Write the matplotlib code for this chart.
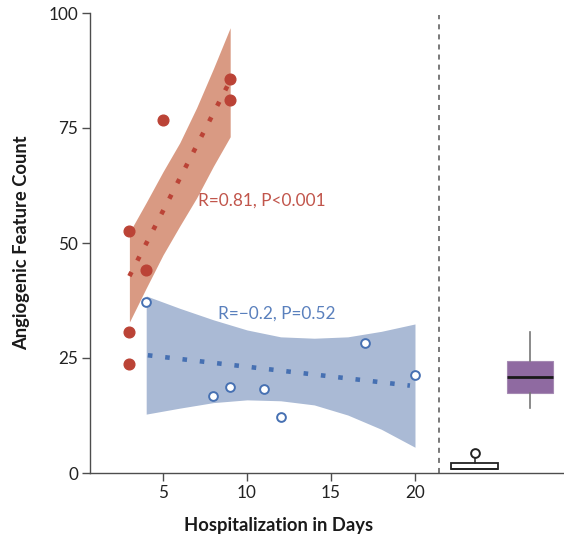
import matplotlib
matplotlib.use('Agg')
import matplotlib.pyplot as plt

plt.rcParams['font.family'] = ['Lato', 'DejaVu Sans']

# ---- data ----
red_x = [3, 3, 3, 4, 5, 9, 9]
red_y = [52.5, 30.6, 23.6, 44.1, 76.7, 85.6, 81.1]
red_fit_x = [3, 9]
red_fit_y = [42.8, 85.3]
red_band_x = [3, 4, 5, 6, 7, 8, 9]
red_band_lo = [32.8, 40.2, 47.4, 53.7, 59.8, 66.7, 73.1]
red_band_hi = [52.3, 58.8, 65.5, 71.8, 79.4, 87.9, 96.8]

blue_x = [4, 8, 9, 11, 12, 17, 20]
blue_y = [37.2, 16.7, 18.8, 18.3, 12.2, 28.3, 21.2]
blue_fit_x = [4.1, 19.7]
blue_fit_y = [25.6, 19.0]
blue_band_x = [4, 6, 8, 10, 12, 14, 16, 18, 20]
blue_band_hi = [38.5, 35.8, 33.3, 31.1, 29.6, 29.3, 29.6, 30.8, 32.4]
blue_band_lo = [12.8, 14.1, 15.3, 15.9, 15.7, 14.8, 12.6, 9.5, 5.6]

red_label = "R=0.81, P<0.001"
blue_label = "R=\u22120.2, P=0.52"

divider_x = 21.45

box1_stats = dict(med=0.8, q1=0.8, q3=2.1, whislo=0.8, whishi=3.4, fliers=[4.3])
box2_stats = dict(med=20.9, q1=17.5, q3=24.3, whislo=14.1, whishi=30.7, fliers=[])
box_positions = [23.57, 26.86]

x_ticks = [5, 10, 15, 20]
y_ticks = [0, 25, 50, 75, 100]

# ---- colours ----
RED = '#bb4336'
RED_BAND = '#d99a83'
RED_TXT = '#c1554b'
BLUE = '#4670b2'
BLUE_BAND = '#aabad5'
BLUE_TXT = '#5a80bd'
PURPLE = '#8f6aa1'
AX = '#4d4d4d'

W, H = 564, 538
fig = plt.figure(figsize=(W / 100, H / 100), dpi=100)
ax = fig.add_axes([90 / W, 65 / H, (W - 90) / W, 460 / H])

# red group
ax.fill_between(red_band_x, red_band_lo, red_band_hi, color=RED_BAND, lw=0, zorder=1)
ax.plot(red_fit_x, red_fit_y, color=RED, lw=3.3, ls=(0, (1, 2.8)),
        dash_capstyle='butt', zorder=2)
ax.plot(red_x, red_y, 'o', ms=7.7, color=RED, mec=RED, zorder=3)

# blue group
ax.fill_between(blue_band_x, blue_band_lo, blue_band_hi, color=BLUE_BAND, lw=0, zorder=1)
ax.plot(blue_fit_x, blue_fit_y, color=BLUE, lw=3.3, ls=(0, (1, 2.8)),
        dash_capstyle='butt', zorder=2)
ax.plot(blue_x, blue_y, 'o', ms=6.3, mfc='white', mec=BLUE, mew=1.4, zorder=3)

ax.text(7.09, 59.3, red_label, color=RED_TXT, fontsize=12.4, va='center', ha='left')
ax.text(8.27, 34.7, blue_label, color=BLUE_TXT, fontsize=12.4, va='center', ha='left')

# divider
ax.plot([divider_x, divider_x], [0, 99.5], color='#555555', lw=1.1,
        ls=(0, (3.3, 3.3)), zorder=2)

# boxplots
ax.bxp([box1_stats], positions=[box_positions[0]], widths=2.8, showcaps=False,
       patch_artist=True, manage_ticks=False,
       boxprops=dict(facecolor='white', edgecolor='#222222', lw=1.3),
       medianprops=dict(color='#222222', lw=1.3),
       whiskerprops=dict(color='#222222', lw=1.1),
       flierprops=dict(marker='o', ms=6.3, mfc='white', mec='#222222', mew=1.4))
ax.bxp([box2_stats], positions=[box_positions[1]], widths=2.76, showcaps=False,
       patch_artist=True, manage_ticks=False,
       boxprops=dict(facecolor=PURPLE, edgecolor='#a58ab3', lw=0.8),
       medianprops=dict(color='#1a1a1a', lw=2.0),
       whiskerprops=dict(color='#777777', lw=1.2))

ax.set_xlim(0.655, 28.87)
ax.set_ylim(0, 100)
ax.set_xticks(x_ticks)
ax.set_yticks(y_ticks)
ax.spines['top'].set_visible(False)
ax.spines['right'].set_visible(False)
for s in ('left', 'bottom'):
    ax.spines[s].set_color(AX)
    ax.spines[s].set_linewidth(1.0)
ax.tick_params(length=5.5, width=1.0, color=AX, labelsize=12.3, labelcolor='#222222', pad=3)
ax.patch.set_visible(False)

fig.text(279 / W, 1 - 526 / H, "Hospitalization in Days", ha='center', va='center',
         fontsize=13.2, fontweight='bold', color='#1a1a1a')
fig.text(22 / W, 1 - 243 / H, "Angiogenic Feature Count", ha='center', va='center',
         rotation=90, fontsize=13.2, fontweight='bold', color='#1a1a1a')

fig.savefig('out.png', dpi=100)
